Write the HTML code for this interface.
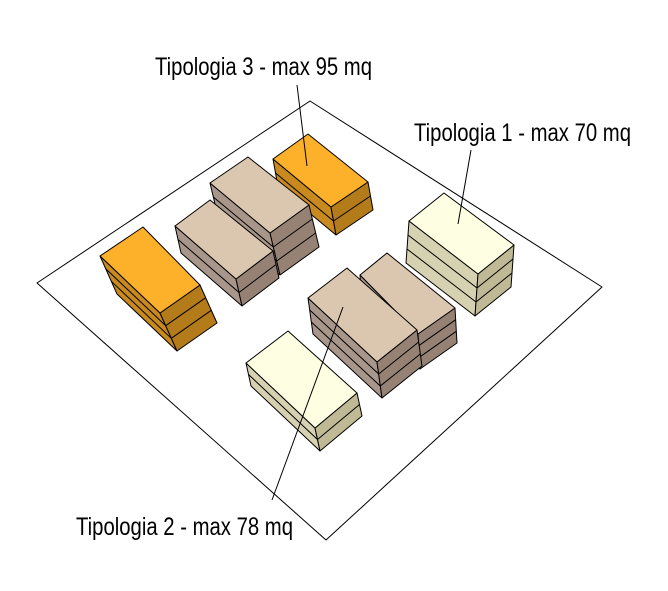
<!DOCTYPE html>
<html><head><meta charset="utf-8"><style>
html,body{margin:0;padding:0;background:#fff;}
svg{display:block;}
text{font-family:"Liberation Sans Narrow","Liberation Sans",sans-serif;font-size:25px;fill:#000;}
</style></head><body>
<svg width="668" height="591" viewBox="0 0 668 591" xmlns="http://www.w3.org/2000/svg">
<g stroke="#000" stroke-width="1" stroke-linejoin="round">
<polygon points="37,283 310,101 602,287 326,540" fill="#fff"/>

<!-- B orange top -->
<polygon points="273,159 331,207 336,235 278,187" fill="#c88a1e"/>
<polygon points="331,207 368,182 373,210 336,235" fill="#b37b19"/>
<polygon points="273,159 308,134 368,182 331,207" fill="#fdb12b"/>
<polyline points="275.5,173 333.5,221 370.5,196" fill="none"/>

<!-- C tan back -->
<polygon points="210,183 270,233 280,275 220,225" fill="#a8968a"/>
<polygon points="270,233 309,205 319,247 280,275" fill="#958274"/>
<polygon points="210,183 248,157 309,205 270,233" fill="#dbc6b0"/>
<polyline points="213.3,197 273.3,247 312.3,219" fill="none"/>
<polyline points="216.7,211 276.7,261 315.7,233" fill="none"/>

<!-- D tan front -->
<polygon points="175,226 236,279 242,306 181,253" fill="#a8968a"/>
<polygon points="236,279 273,251 279,278 242,306" fill="#958274"/>
<polygon points="175,226 210,200 273,251 236,279" fill="#dbc6b0"/>
<polyline points="178,239.5 239,292.5 276,264.5" fill="none"/>

<!-- A orange left -->
<polygon points="100,256 160,313 177,351 117,294" fill="#c88a1e"/>
<polygon points="160,313 200,285 217,323 177,351" fill="#b37b19"/>
<polygon points="100,256 143,227 200,285 160,313" fill="#fdb12b"/>
<polyline points="105.7,268.7 165.7,325.7 205.7,297.7" fill="none"/>
<polyline points="111.3,281.3 171.3,338.3 211.3,310.3" fill="none"/>

<!-- G cream right -->
<polygon points="409,221 478,274 475,316 406,263" fill="#d6d1b0"/>
<polygon points="478,274 514,245 511,287 475,316" fill="#c0b995"/>
<polygon points="409,221 444,193 514,245 478,274" fill="#fefee3"/>
<polyline points="408,235 477,288 513,259" fill="none"/>
<polyline points="407,249 476,302 512,273" fill="none"/>

<!-- E tan middle back -->
<polygon points="360,275 418,334 420,369 362,310" fill="#a8968a"/>
<polygon points="418,334 455,308 457,343 420,369" fill="#958274"/>
<polygon points="360,275 387,253 455,308 418,334" fill="#dbc6b0"/>
<polyline points="360.7,286.7 418.7,345.7 455.7,319.7" fill="none"/>
<polyline points="361.3,298.3 419.3,357.3 456.3,331.3" fill="none"/>

<!-- F tan middle front -->
<polygon points="308,298 377,362 382,398 313,334" fill="#a8968a"/>
<polygon points="377,362 417,330 422,366 382,398" fill="#958274"/>
<polygon points="308,298 347,268 417,330 377,362" fill="#dbc6b0"/>
<polyline points="309.7,310 378.7,374 418.7,342" fill="none"/>
<polyline points="311.3,322 380.3,386 420.3,354" fill="none"/>

<!-- H cream lower -->
<polygon points="246,363 315,428 320,451 251,386" fill="#d6d1b0"/>
<polygon points="315,428 357,393 362,416 320,451" fill="#c0b995"/>
<polygon points="246,363 288,331 357,393 315,428" fill="#fefee3"/>
<polyline points="248.5,374.5 317.5,439.5 359.5,404.5" fill="none"/>

<!-- leaders -->
<line x1="297" y1="85" x2="307" y2="166"/>
<line x1="471" y1="150" x2="458" y2="224"/>
<line x1="343" y1="307" x2="272" y2="500"/>
</g>
<text x="155" y="75" textLength="217" lengthAdjust="spacingAndGlyphs">Tipologia 3 - max 95 mq</text>
<text x="414" y="141" textLength="217" lengthAdjust="spacingAndGlyphs">Tipologia 1 - max 70 mq</text>
<text x="76" y="535" textLength="217" lengthAdjust="spacingAndGlyphs">Tipologia 2 - max 78 mq</text>
</svg>
</body></html>
